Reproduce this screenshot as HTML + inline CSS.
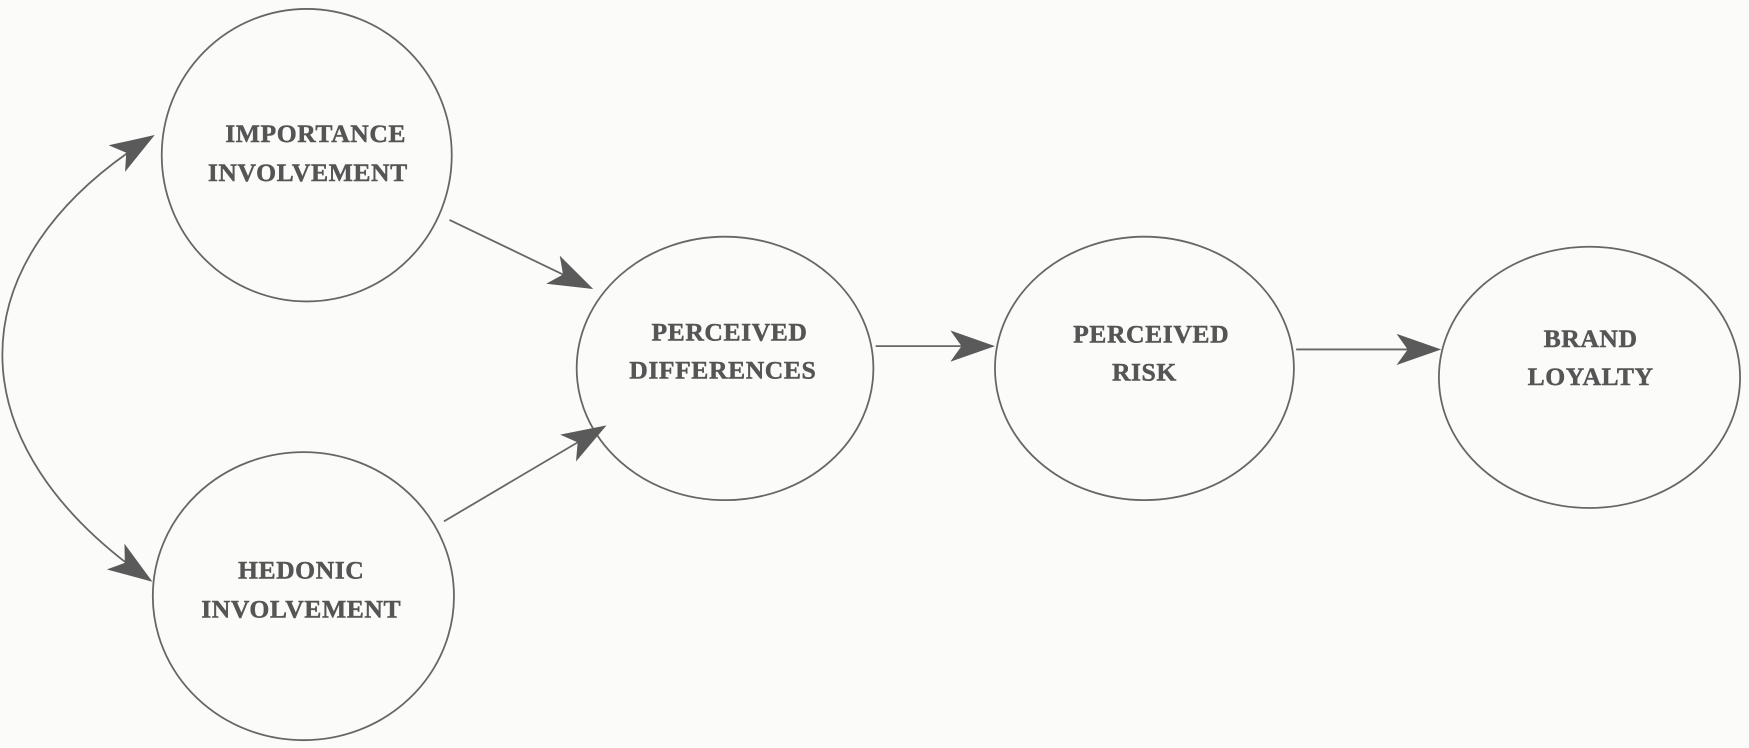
<!DOCTYPE html>
<html><head><meta charset="utf-8"><style>
html,body{margin:0;padding:0;background:#fbfbf9;}
svg{display:block;}
text{font-family:"Liberation Serif",serif;font-weight:bold;fill:#555;font-size:23px;text-anchor:middle;letter-spacing:0.5px;stroke:#555;stroke-width:0.4px;}
</style></head><body>
<svg width="1749" height="748" viewBox="0 0 1568 670" preserveAspectRatio="none" xmlns="http://www.w3.org/2000/svg">
<defs>
<marker id="b" viewBox="0 0 40 28" refX="38" refY="14" markerWidth="40" markerHeight="28" markerUnits="userSpaceOnUse" orient="auto-start-reverse">
<path d="M0,0 L40,14 L0,28 L10,14 Z" fill="#5a5a5a"/>
</marker>
</defs>
<g fill="none" stroke="#666" stroke-width="1.6">
<ellipse cx="275" cy="139" rx="130" ry="131"/>
<ellipse cx="272" cy="534" rx="135" ry="129"/>
<ellipse cx="650" cy="330" rx="133" ry="118"/>
<ellipse cx="1026" cy="330" rx="134" ry="118"/>
<ellipse cx="1425" cy="338" rx="135" ry="117"/>
<line x1="403" y1="197" x2="530" y2="258" marker-end="url(#b)"/>
<line x1="398" y1="467" x2="542" y2="382" marker-end="url(#b)"/>
<line x1="785" y1="310" x2="890" y2="310" marker-end="url(#b)"/>
<line x1="1162" y1="313" x2="1290" y2="313" marker-end="url(#b)"/>
<path d="M137,122 C-45,235 -40,400 135,520" marker-start="url(#b)" marker-end="url(#b)"/>
</g>
<text x="283" y="127">IMPORTANCE</text>
<text x="276" y="162">INVOLVEMENT</text>
<text x="654" y="305">PERCEIVED</text>
<text x="648" y="339">DIFFERENCES</text>
<text x="1032" y="307">PERCEIVED</text>
<text x="1026" y="341">RISK</text>
<text x="1426" y="311">BRAND</text>
<text x="1426" y="345">LOYALTY</text>
<text x="270" y="518">HEDONIC</text>
<text x="270" y="553">INVOLVEMENT</text>
</svg>
</body></html>
